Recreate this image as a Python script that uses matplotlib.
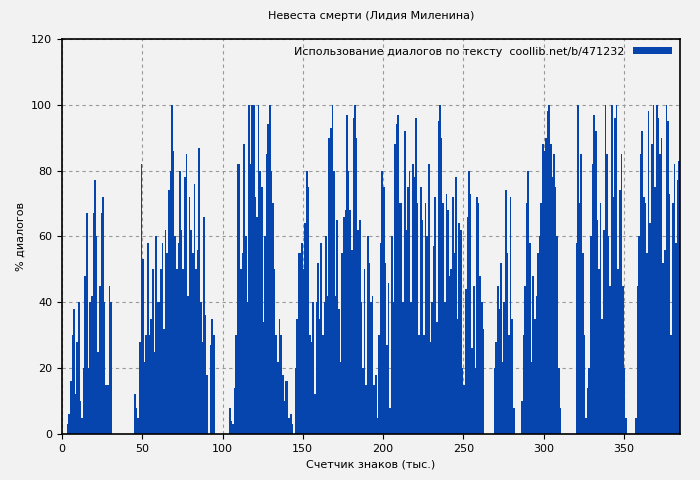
import numpy as np
import matplotlib
matplotlib.use('Agg')
import matplotlib.pyplot as plt

# % диалогов на каждую тысячу знаков (на глаз с картинки)
dialog_pct = [
    0, 0, 0, 3, 6, 16, 30, 38, 12, 28,
    40, 10, 5, 20, 48, 67, 20, 40, 42, 67,
    77, 60, 25, 45, 67, 72, 40, 15, 15, 45,
    40, 0, 0, 0, 0, 0, 0, 0, 0, 0,
    0, 0, 0, 0, 0, 12, 8, 5, 28, 82,
    53, 22, 30, 58, 30, 35, 50, 25, 60, 40,
    40, 50, 58, 32, 62, 55, 74, 80, 100, 86,
    60, 50, 58, 80, 62, 50, 78, 85, 42, 72,
    62, 55, 76, 50, 56, 87, 40, 28, 66, 36,
    18, 0, 27, 35, 30, 0, 0, 0, 0, 0,
    0, 0, 0, 0, 8, 4, 3, 14, 30, 82,
    82, 50, 55, 88, 60, 40, 100, 82, 100, 100,
    72, 66, 100, 80, 75, 34, 60, 85, 94, 100,
    80, 70, 50, 30, 22, 35, 30, 18, 10, 16,
    16, 5, 6, 3, 0, 20, 35, 55, 55, 58,
    50, 64, 80, 75, 30, 28, 40, 12, 40, 52,
    35, 58, 30, 40, 60, 42, 90, 93, 100, 80,
    42, 65, 38, 22, 55, 66, 68, 97, 80, 68,
    56, 96, 100, 90, 62, 65, 40, 20, 50, 15,
    60, 52, 40, 42, 15, 18, 5, 30, 58, 80,
    75, 52, 27, 46, 8, 60, 40, 88, 94, 97,
    70, 70, 40, 92, 62, 75, 80, 40, 82, 78,
    96, 70, 30, 75, 65, 30, 70, 60, 82, 28,
    40, 57, 72, 34, 95, 100, 90, 70, 40, 73,
    68, 48, 50, 72, 55, 78, 35, 64, 62, 20,
    15, 44, 66, 80, 73, 26, 45, 20, 72, 70,
    48, 40, 32, 0, 0, 0, 0, 0, 0, 20,
    28, 45, 38, 52, 22, 40, 74, 55, 30, 72,
    35, 8, 0, 0, 0, 0, 10, 30, 45, 70,
    80, 58, 22, 48, 35, 42, 55, 60, 70, 88,
    86, 90, 98, 100, 88, 78, 85, 75, 60, 20,
    8, 0, 0, 0, 0, 0, 0, 0, 0, 0,
    58, 100, 70, 85, 55, 30, 5, 14, 20, 60,
    82, 97, 92, 65, 50, 70, 35, 62, 100, 85,
    60, 45, 100, 72, 96, 100, 50, 74, 85, 45,
    20, 5, 0, 0, 0, 0, 0, 5, 45, 60,
    85, 92, 72, 70, 55, 98, 64, 88, 100, 75,
    100, 96, 85, 90, 52, 56, 100, 95, 73, 30,
    70, 82, 58, 77, 83,
]
kchars = np.arange(len(dialog_pct))

title = 'Невеста смерти (Лидия Миленина)'
legend_label = 'Использование диалогов по тексту  coollib.net/b/471232'
bg = '#f2f2f2'
blue = '#0645ad'

plt.rcParams['font.family'] = ['DejaVu Sans']
plt.rcParams['font.size'] = 8

fig = plt.figure(figsize=(7, 4.8), dpi=100, facecolor=bg)
ax = fig.add_axes([0.0886, 0.0958, 0.8828, 0.8233], facecolor=bg)

ax.bar(kchars, dialog_pct, width=1.0, align='edge', color=blue,
       linewidth=0, label=legend_label)

ax.set_xlim(0, 385)
ax.set_ylim(0, 120)
ax.set_xticks(range(0, 351, 50))
ax.set_yticks(range(0, 121, 20))
ax.grid(True, color='#999999', linestyle=(0, (3, 3)), linewidth=0.8)
ax.set_axisbelow(True)
for s in ax.spines.values():
    s.set_linewidth(1.2)

ax.set_title(title, fontsize=8, pad=14)
ax.set_xlabel('Счетчик знаков (тыс.)')
ax.set_ylabel('% диалогов')

leg = ax.legend(loc='upper right', frameon=False, markerfirst=False,
                handlelength=3.5, handleheight=0.6, borderaxespad=0.3)

fig.savefig('out.png', dpi=100, facecolor=bg)
